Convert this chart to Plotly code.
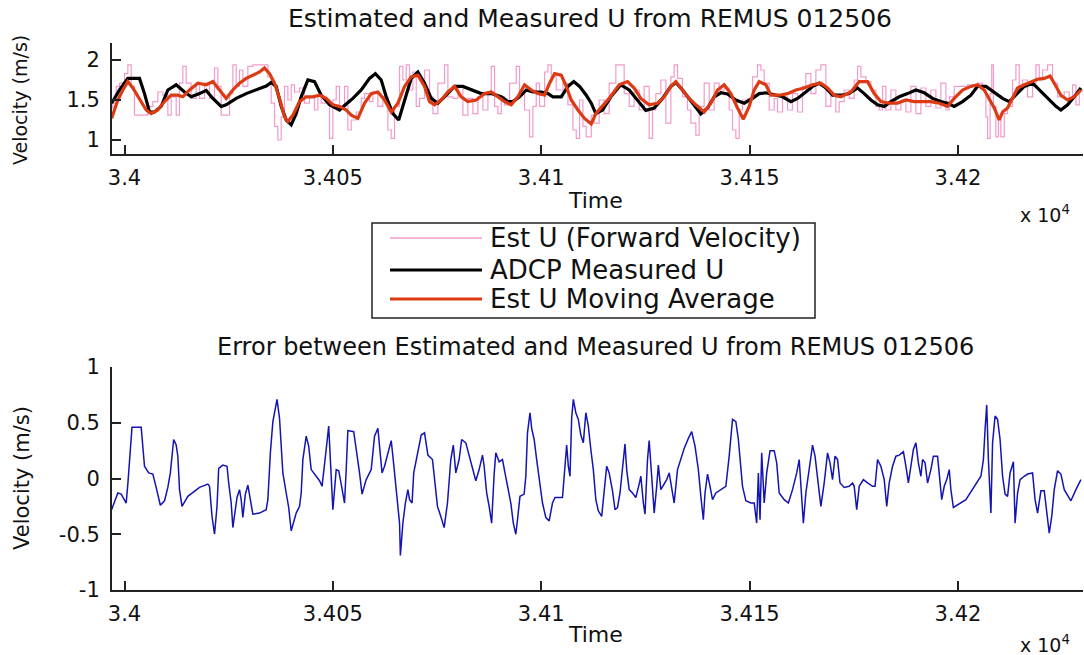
import plotly.graph_objects as go

W, H = 1084, 655

# ---------------- data (time in s, velocity in m/s) ----------------
EST_U = [
    (33996.9, 1.40), (33997.2, 1.46), (33998.0, 1.67), (33998.8, 1.71), (34000.0, 1.83), (34000.8, 1.94),
    (34001.6, 1.67), (34002.4, 1.31), (34004.8, 1.31), (34005.6, 1.42), (34006.8, 1.48), (34008.0, 1.60),
    (34009.2, 1.56), (34010.4, 1.31), (34011.2, 1.54), (34012.4, 1.31), (34013.2, 1.71), (34014.0, 1.92),
    (34014.8, 1.71), (34016.0, 1.52), (34017.2, 1.71), (34018.0, 1.52), (34019.2, 1.71), (34020.4, 1.52),
    (34021.6, 1.90), (34022.4, 1.67), (34023.2, 1.31), (34024.4, 1.31), (34025.2, 1.58), (34026.0, 1.94),
    (34026.8, 1.67), (34027.6, 1.875), (34028.4, 1.67), (34029.6, 1.92), (34030.8, 1.94), (34033.6, 1.94),
    (34034.4, 1.79), (34035.2, 1.46), (34036.0, 1.17), (34036.8, 1.00), (34037.6, 1.29), (34038.4, 1.67),
    (34039.2, 1.50), (34040.0, 1.69), (34040.8, 1.60), (34042.0, 1.65), (34043.2, 1.46), (34044.4, 1.54),
    (34045.6, 1.375), (34046.4, 1.56), (34047.2, 1.46), (34048.4, 1.50), (34049.2, 1.02), (34050.0, 1.50),
    (34050.8, 1.67), (34051.6, 1.42), (34052.8, 1.67),
    (34053.6, 1.125), (34054.4, 1.25), (34055.6, 1.35), (34056.8, 1.52), (34057.6, 1.58), (34058.8, 1.48),
    (34059.6, 1.60), (34060.8, 1.42), (34062.0, 1.54), (34063.2, 1.125), (34064.0, 1.02), (34064.8, 1.42),
    (34066.0, 1.92), (34066.8, 1.75), (34067.6, 1.94), (34068.4, 1.625), (34069.2, 1.85), (34070.0, 1.42),
    (34070.8, 1.52), (34072.0, 1.875), (34073.2, 1.54), (34074.0, 1.33), (34075.2, 1.71), (34076.8, 1.94),
    (34077.6, 1.54), (34078.8, 1.52), (34080.0, 1.67), (34081.2, 1.31), (34082.4, 1.52), (34083.6, 1.33),
    (34084.8, 1.54), (34086.0, 1.375), (34087.2, 1.58), (34088.0, 1.92), (34088.8, 1.42), (34089.6, 1.33),
    (34090.4, 1.54), (34091.2, 1.44), (34092.4, 1.71), (34094.0, 1.92), (34094.8, 1.58), (34096.0, 1.375),
    (34097.2, 1.04), (34098.0, 1.42), (34098.8, 1.71), (34099.6, 1.42), (34100.8, 1.85), (34101.6, 1.94),
    (34102.4, 1.79), (34103.6, 1.625), (34105.2, 1.71), (34106.4, 1.44), (34107.6, 1.125), (34108.4, 1.02),
    (34109.2, 1.50), (34110.0, 1.17), (34110.8, 1.04), (34112.0, 1.31),
    (34112.7, 1.21), (34113.9, 1.50), (34115.1, 1.33), (34116.3, 1.71), (34117.9, 1.94), (34119.1, 1.94),
    (34119.9, 1.58), (34121.1, 1.42), (34122.3, 1.625), (34123.5, 1.375), (34124.7, 1.67), (34125.9, 1.02),
    (34126.7, 1.375), (34127.5, 1.58), (34128.7, 1.75), (34129.9, 1.21), (34131.1, 1.79), (34131.9, 1.94),
    (34132.7, 1.77), (34133.9, 1.54), (34135.1, 1.375), (34135.9, 1.21), (34137.1, 1.06), (34137.9, 1.42),
    (34139.1, 1.71), (34140.3, 1.375), (34141.5, 1.71), (34142.7, 1.625), (34143.9, 1.65), (34145.1, 1.375),
    (34145.9, 1.125), (34146.7, 1.02), (34147.5, 1.375), (34148.3, 1.50), (34149.5, 1.52), (34150.7, 1.79),
    (34151.9, 1.94), (34152.7, 1.875), (34153.5, 1.71), (34154.7, 1.375), (34155.9, 1.52), (34156.7, 1.35),
    (34157.9, 1.54), (34159.1, 1.375), (34160.3, 1.58), (34161.5, 1.35), (34162.7, 1.67), (34163.5, 1.83),
    (34164.7, 1.58), (34165.9, 1.875), (34167.1, 1.94), (34168.3, 1.42), (34169.5, 1.58), (34170.7, 1.35),
    (34171.5, 1.48), (34172.7, 1.625), (34173.9, 1.52), (34175.1, 1.75), (34175.9, 1.92), (34176.7, 1.79),
    (34177.9, 1.73), (34179.1, 1.625), (34180.3, 1.42), (34181.1, 1.375), (34181.9, 1.67), (34182.7, 1.375),
    (34183.9, 1.625), (34185.1, 1.375), (34186.3, 1.50), (34187.5, 1.35), (34188.7, 1.67), (34189.9, 1.33),
    (34191.1, 1.65), (34192.3, 1.42), (34193.5, 1.625), (34194.7, 1.40), (34195.9, 1.71), (34197.1, 1.375),
    (34197.9, 1.54), (34199.1, 1.67), (34200.7, 1.67), (34202.3, 1.69), (34203.5, 1.67), (34204.7, 1.71),
    (34205.9, 1.625), (34206.7, 1.29), (34207.1, 1.02), (34207.7, 1.58), (34208.1, 1.94), (34208.5, 1.42),
    (34209.1, 1.04), (34209.7, 1.29), (34210.3, 1.04), (34211.1, 1.33), (34211.9, 1.42), (34213.1, 1.75),
    (34213.9, 1.94), (34214.7, 1.625), (34215.5, 1.75), (34216.7, 1.54), (34217.9, 1.71), (34218.7, 1.94),
    (34219.5, 1.75), (34220.3, 1.875), (34221.5, 1.94), (34222.7, 1.71), (34223.9, 1.54), (34225.5, 1.60),
    (34226.7, 1.52), (34227.5, 1.69), (34228.3, 1.44), (34229.1, 1.625), (34230.0, 1.60),
]

ADCP_U = [
    (33996.9, 1.46), (33998.8, 1.625), (34000.8, 1.77), (34003.6, 1.77), (34004.8, 1.58), (34006.0, 1.35),
    (34007.2, 1.35), (34008.8, 1.42), (34010.4, 1.625), (34012.4, 1.69), (34014.4, 1.60), (34016.0, 1.54),
    (34018.0, 1.58), (34019.6, 1.62), (34021.2, 1.52), (34023.2, 1.42), (34024.4, 1.44), (34026.8, 1.52),
    (34029.2, 1.58), (34031.6, 1.625), (34034.0, 1.675), (34035.2, 1.72), (34036.4, 1.67), (34037.6, 1.42),
    (34038.8, 1.25), (34040.0, 1.19), (34041.2, 1.33), (34042.4, 1.54), (34044.0, 1.75), (34045.6, 1.73),
    (34047.2, 1.56), (34049.2, 1.44), (34051.6, 1.375), (34053.0, 1.44), (34054.8, 1.52), (34056.8, 1.625),
    (34058.8, 1.77), (34060.2, 1.83), (34061.6, 1.75), (34062.8, 1.54), (34064.4, 1.33), (34065.8, 1.25),
    (34067.2, 1.50), (34068.8, 1.77), (34070.4, 1.85), (34072.0, 1.71), (34073.6, 1.52), (34075.2, 1.46),
    (34076.8, 1.54), (34079.2, 1.67), (34081.2, 1.67), (34083.2, 1.625), (34085.6, 1.58), (34088.0, 1.58),
    (34090.4, 1.54), (34092.0, 1.48), (34093.2, 1.48), (34094.8, 1.54), (34096.4, 1.625), (34098.0, 1.60),
    (34100.0, 1.60), (34101.6, 1.58), (34102.8, 1.54), (34104.8, 1.54), (34106.4, 1.67), (34107.8, 1.73),
    (34109.2, 1.67), (34110.8, 1.56), (34112.0, 1.46), (34113.1, 1.33), (34114.7, 1.375), (34116.7, 1.54),
    (34119.1, 1.69), (34121.1, 1.625), (34123.1, 1.50), (34125.1, 1.37), (34127.1, 1.40), (34129.1, 1.52),
    (34131.1, 1.67), (34132.3, 1.72), (34133.9, 1.625), (34135.5, 1.52), (34137.1, 1.40), (34138.3, 1.325),
    (34139.9, 1.40), (34141.5, 1.54), (34143.1, 1.59), (34144.7, 1.575), (34146.7, 1.50), (34148.7, 1.46),
    (34150.7, 1.52), (34152.3, 1.58), (34153.9, 1.59), (34155.9, 1.56), (34157.9, 1.54), (34159.9, 1.48),
    (34161.5, 1.52), (34163.5, 1.60), (34165.1, 1.67), (34166.7, 1.71), (34168.3, 1.65), (34169.9, 1.56),
    (34171.9, 1.56), (34173.9, 1.58), (34175.9, 1.65), (34177.5, 1.58), (34179.1, 1.50), (34180.7, 1.44),
    (34182.3, 1.42), (34183.9, 1.48), (34185.9, 1.54), (34187.9, 1.58), (34189.9, 1.625), (34191.9, 1.59),
    (34193.9, 1.52), (34195.9, 1.48), (34197.5, 1.46), (34199.1, 1.42), (34201.1, 1.48), (34203.1, 1.56),
    (34204.7, 1.67), (34206.7, 1.67), (34208.7, 1.60), (34210.7, 1.52), (34212.3, 1.48), (34213.9, 1.56),
    (34215.9, 1.67), (34217.9, 1.71), (34219.5, 1.625), (34221.5, 1.52), (34223.5, 1.42), (34224.7, 1.375),
    (34226.3, 1.44), (34227.9, 1.54), (34229.5, 1.65),
]

AVG_U = [
    (33996.9, 1.27), (33998.4, 1.50), (33999.6, 1.625), (34000.8, 1.73), (34002.0, 1.65), (34003.6, 1.52),
    (34005.2, 1.375), (34006.4, 1.33), (34008.0, 1.375), (34009.6, 1.48), (34011.2, 1.56), (34012.8, 1.56),
    (34014.0, 1.54), (34015.6, 1.625), (34017.6, 1.71), (34019.6, 1.69), (34021.2, 1.73), (34022.8, 1.625),
    (34024.4, 1.52), (34026.0, 1.625), (34027.6, 1.71), (34029.2, 1.77), (34030.8, 1.81), (34032.4, 1.85),
    (34033.6, 1.90), (34034.8, 1.83), (34036.0, 1.71), (34037.2, 1.52), (34038.4, 1.29), (34039.2, 1.23),
    (34040.4, 1.31), (34042.0, 1.48), (34043.6, 1.54), (34045.2, 1.54), (34046.8, 1.56), (34048.4, 1.52),
    (34050.0, 1.44), (34051.6, 1.42), (34053.2, 1.375), (34054.4, 1.31), (34056.0, 1.27), (34057.6, 1.46),
    (34059.2, 1.58), (34060.8, 1.60), (34062.4, 1.50), (34064.0, 1.35), (34065.6, 1.46), (34067.2, 1.67),
    (34068.8, 1.79), (34070.4, 1.81), (34072.0, 1.67), (34073.2, 1.48), (34074.4, 1.44), (34076.0, 1.50),
    (34077.6, 1.60), (34079.2, 1.67), (34080.8, 1.54), (34082.4, 1.48), (34084.4, 1.50), (34086.4, 1.58),
    (34088.0, 1.60), (34089.6, 1.54), (34091.2, 1.48), (34092.8, 1.44), (34094.4, 1.54), (34096.0, 1.69),
    (34097.6, 1.625), (34099.2, 1.58), (34100.8, 1.56), (34102.0, 1.71), (34103.2, 1.83), (34104.8, 1.81),
    (34106.0, 1.67), (34107.2, 1.50), (34108.8, 1.375), (34110.4, 1.27), (34112.0, 1.20), (34113.1, 1.33),
    (34114.7, 1.42), (34116.3, 1.52), (34118.7, 1.69), (34120.7, 1.73), (34122.3, 1.65), (34123.9, 1.52),
    (34125.9, 1.44), (34127.9, 1.46), (34129.5, 1.54), (34131.1, 1.67), (34132.3, 1.73), (34133.9, 1.625),
    (34135.5, 1.52), (34137.1, 1.44), (34139.1, 1.35), (34140.7, 1.46), (34142.3, 1.625), (34143.9, 1.69),
    (34145.5, 1.58), (34147.1, 1.40), (34148.5, 1.26), (34149.9, 1.42), (34151.1, 1.625), (34152.3, 1.73),
    (34153.9, 1.69), (34155.1, 1.56), (34157.1, 1.56), (34159.1, 1.58), (34161.1, 1.625), (34163.1, 1.65),
    (34165.1, 1.69), (34167.1, 1.71), (34168.7, 1.65), (34170.3, 1.56), (34171.9, 1.54), (34174.3, 1.60),
    (34176.3, 1.73), (34178.3, 1.73), (34179.9, 1.58), (34181.5, 1.48), (34183.5, 1.46), (34185.5, 1.46),
    (34187.5, 1.50), (34189.5, 1.48), (34191.5, 1.48), (34193.5, 1.48), (34195.5, 1.46), (34197.5, 1.42),
    (34199.1, 1.52), (34201.1, 1.625), (34203.1, 1.67), (34204.7, 1.69), (34206.3, 1.625), (34207.5, 1.52),
    (34208.7, 1.40), (34209.9, 1.25), (34210.7, 1.35), (34211.9, 1.40), (34213.1, 1.52), (34214.3, 1.65),
    (34215.9, 1.69), (34217.5, 1.73), (34219.1, 1.76), (34220.7, 1.77), (34222.1, 1.80), (34223.1, 1.71),
    (34224.7, 1.56), (34226.3, 1.50), (34227.9, 1.54), (34229.5, 1.625),
]

ERROR_U = [
    (33996.9, -0.28), (33998.4, -0.13), (33999.2, -0.14), (34000.4, -0.22), (34000.8, -0.05), (34001.4, 0.29),
    (34001.8, 0.46), (34004.0, 0.46), (34004.4, 0.29), (34004.8, 0.11), (34005.8, 0.05), (34006.8, 0.04),
    (34007.6, -0.08), (34008.6, -0.24), (34009.6, -0.20), (34010.4, -0.08), (34011.0, 0.05), (34011.8, 0.35),
    (34012.4, 0.30), (34012.8, 0.20), (34013.2, -0.10), (34013.8, -0.25), (34015.2, -0.16), (34016.8, -0.11),
    (34018.0, -0.08), (34020.0, -0.05), (34020.4, -0.07), (34021.0, -0.34), (34021.6, -0.50), (34022.2, -0.25),
    (34022.6, 0.09), (34023.6, 0.12), (34024.6, 0.11), (34025.0, -0.04), (34025.6, -0.22), (34026.0, -0.44),
    (34026.4, -0.31), (34027.0, -0.17), (34027.6, -0.10), (34028.0, -0.19), (34028.4, -0.35), (34029.0, -0.14),
    (34029.6, -0.06), (34030.2, -0.19), (34030.8, -0.32), (34032.4, -0.31), (34034.0, -0.28), (34034.4, -0.19),
    (34035.0, 0.23), (34035.6, 0.51), (34036.2, 0.65), (34036.6, 0.71), (34037.2, 0.54), (34037.6, 0.23),
    (34038.0, 0.05), (34038.8, -0.13), (34039.4, -0.26), (34040.0, -0.47), (34040.6, -0.40), (34041.2, -0.31),
    (34042.0, -0.25), (34042.4, -0.13), (34042.8, 0.17), (34043.6, 0.38), (34044.2, 0.29), (34044.8, 0.08),
    (34046.0, 0.02), (34046.8, -0.02), (34047.4, -0.07), (34048.2, 0.17), (34048.6, 0.33), (34049.0, 0.47),
    (34049.4, 0.20), (34050.0, -0.28), (34050.8, 0.08), (34051.4, 0.07), (34052.0, -0.05), (34052.8, -0.22),
    (34053.2, 0.08), (34053.6, 0.43), (34055.0, 0.42), (34055.6, 0.27), (34056.4, 0.05), (34057.0, -0.14),
    (34058.0, -0.01), (34059.2, 0.08), (34060.0, 0.38), (34060.8, 0.45), (34061.4, 0.20), (34061.8, 0.05),
    (34062.4, 0.11), (34063.2, 0.23), (34064.0, 0.34), (34064.4, 0.20), (34065.2, -0.13), (34066.0, -0.40),
    (34066.2, -0.69), (34066.8, -0.40), (34067.4, -0.22), (34068.0, -0.10), (34068.4, -0.19), (34069.0, -0.22),
    (34069.4, 0.05), (34070.4, 0.23), (34071.2, 0.39), (34072.0, 0.41), (34072.8, 0.21), (34073.9, 0.17),
    (34074.5, -0.04), (34075.1, -0.25), (34075.9, -0.34), (34076.7, -0.44), (34077.5, -0.22), (34077.9, -0.04),
    (34078.3, 0.17), (34078.9, 0.30), (34079.5, 0.05), (34080.3, 0.17), (34080.9, 0.35), (34081.9, 0.32),
    (34082.7, 0.20), (34083.5, 0.08), (34084.3, -0.02), (34085.1, 0.08), (34085.9, 0.21), (34086.3, 0.11),
    (34086.9, -0.13), (34087.5, -0.25), (34088.1, -0.40), (34088.7, 0.04), (34089.1, 0.23), (34089.9, 0.15),
    (34090.7, 0.17), (34091.3, 0.05), (34091.9, -0.07), (34092.7, -0.22), (34093.3, -0.40), (34093.9, -0.50),
    (34094.3, -0.37), (34094.9, -0.16), (34095.9, -0.14), (34096.3, 0.02), (34096.7, 0.41), (34097.3, 0.59),
    (34097.7, 0.45), (34098.3, 0.35), (34098.9, 0.17), (34099.5, -0.01), (34100.3, -0.22), (34101.1, -0.35),
    (34101.9, -0.38), (34102.7, -0.22), (34103.3, -0.17), (34105.1, -0.17), (34105.7, 0.07), (34106.1, 0.30),
    (34106.5, 0.11), (34106.9, 0.02), (34107.3, 0.54), (34107.7, 0.71), (34108.3, 0.59), (34108.9, 0.53),
    (34109.5, 0.39), (34110.1, 0.32), (34110.7, 0.59), (34111.3, 0.47), (34111.9, 0.26), (34112.5, 0.08),
    (34113.1, -0.19), (34113.7, -0.29), (34114.5, -0.34), (34115.1, -0.13), (34115.7, 0.11), (34116.3, 0.05),
    (34117.1, -0.11), (34117.7, -0.28), (34118.3, -0.26), (34118.9, -0.13), (34119.5, 0.08), (34120.1, 0.31),
    (34120.5, 0.08), (34121.1, -0.10), (34121.9, -0.13), (34122.7, -0.17), (34123.5, -0.05), (34123.9, 0.02),
    (34124.5, -0.22), (34124.9, -0.32), (34125.5, 0.17), (34125.9, 0.34), (34126.5, 0.02), (34127.1, -0.31),
    (34127.7, -0.07), (34128.1, 0.12), (34128.7, -0.10), (34129.5, -0.04), (34130.1, -0.01), (34130.7, 0.05),
    (34131.3, -0.07), (34131.9, -0.22), (34132.7, 0.08), (34133.5, 0.17), (34134.3, 0.27), (34135.3, 0.36),
    (34136.1, 0.42), (34136.9, 0.29), (34137.7, 0.08), (34138.3, -0.16), (34138.9, -0.37), (34139.3, -0.13),
    (34139.9, 0.04), (34140.5, -0.07), (34141.1, -0.19), (34141.9, -0.13), (34144.3, -0.07), (34145.1, 0.20),
    (34145.9, 0.53), (34146.7, 0.51), (34147.3, 0.35), (34148.3, -0.07), (34149.1, -0.20), (34150.3, -0.22),
    (34151.1, -0.22), (34151.7, -0.40), (34152.1, 0.05), (34152.5, -0.37), (34152.9, 0.23), (34153.5, -0.22),
    (34154.1, 0.05), (34154.9, 0.25), (34155.9, 0.25), (34156.5, 0.14), (34157.1, -0.13), (34158.3, -0.19),
    (34159.3, -0.22), (34160.3, -0.10), (34161.3, 0.05), (34161.9, 0.17), (34162.3, -0.04), (34162.9, -0.40),
    (34163.5, -0.13), (34164.3, 0.08), (34165.1, 0.30), (34165.7, 0.20), (34166.3, 0.02), (34167.1, -0.25),
    (34167.9, -0.04), (34168.7, 0.23), (34169.3, 0.14), (34169.9, -0.01), (34170.5, 0.20), (34171.1, 0.17),
    (34171.7, -0.04), (34172.7, -0.08), (34173.9, -0.07), (34174.7, -0.04), (34175.1, -0.07), (34175.7, -0.28),
    (34176.3, -0.07), (34177.3, -0.01), (34178.3, -0.04), (34179.5, -0.07), (34180.1, -0.07), (34180.7, 0.17),
    (34181.5, 0.11), (34182.3, -0.01), (34182.9, -0.25), (34183.5, -0.04), (34184.3, 0.11), (34185.1, 0.20),
    (34185.9, 0.21), (34186.9, 0.24), (34187.5, 0.11), (34188.1, -0.04), (34188.7, 0.11), (34189.3, 0.26),
    (34189.9, 0.32), (34190.5, 0.14), (34191.1, 0.02), (34191.5, 0.17), (34192.1, 0.14), (34192.7, -0.04),
    (34193.5, 0.08), (34194.1, 0.20), (34195.1, 0.20), (34195.5, 0.05), (34196.1, -0.19), (34196.7, -0.07),
    (34197.3, -0.01), (34197.9, 0.08), (34198.3, -0.10), (34198.9, -0.26), (34201.9, -0.19), (34205.5, 0.02),
    (34206.1, 0.17), (34206.5, 0.44), (34206.9, 0.66), (34207.3, 0.17), (34207.9, -0.31), (34208.3, 0.32),
    (34208.9, 0.56), (34209.5, 0.53), (34210.1, 0.35), (34210.7, 0.02), (34211.3, -0.14), (34211.9, -0.16),
    (34212.5, 0.05), (34213.3, 0.15), (34213.7, -0.40), (34214.3, -0.13), (34214.9, -0.01), (34215.9, 0.02),
    (34216.7, 0.04), (34217.9, 0.05), (34218.5, -0.19), (34219.1, -0.31), (34219.9, -0.11), (34220.7, -0.11),
    (34221.3, -0.31), (34221.9, -0.49), (34222.5, -0.34), (34223.1, -0.10), (34223.9, 0.07), (34224.7, 0.04),
    (34225.5, -0.10), (34227.1, -0.20), (34228.3, -0.10), (34229.5, -0.01),
]

X_TICKS = [34000, 34050, 34100, 34150, 34200]
X_TICK_LABELS = ["3.4", "3.405", "3.41", "3.415", "3.42"]
Y1_TICKS = [1, 1.5, 2]
Y1_TICK_LABELS = ["1", "1.5", "2"]
Y2_TICKS = [-1, -0.5, 0, 0.5, 1]
Y2_TICK_LABELS = ["-1", "-0.5", "0", "0.5", "1"]

SERIES_NAMES = ["Est U (Forward Velocity)", "ADCP Measured U", "Est U Moving Average"]
COLORS = {"est": "#F29BCB", "adcp": "#000000", "avg": "#DC3A12", "err": "#1414B4"}

# ---------------- helpers (layout only) ----------------
def fx(p):
    return p / W

def fy(p):
    return 1 - p / H

def unzip(pairs):
    return [p[0] for p in pairs], [p[1] for p in pairs]

FONT = "DejaVu Sans, Arial, sans-serif"
TXT = "#111111"

fig = go.Figure()

t, v = unzip(EST_U)
fig.add_trace(go.Scatter(x=t, y=v, mode="lines", line=dict(color=COLORS["est"], width=1.2, shape="hv"),
                         name=SERIES_NAMES[0], xaxis="x", yaxis="y", showlegend=False))
t, v = unzip(ADCP_U)
fig.add_trace(go.Scatter(x=t, y=v, mode="lines", line=dict(color=COLORS["adcp"], width=3.2),
                         name=SERIES_NAMES[1], xaxis="x", yaxis="y", showlegend=False))
t, v = unzip(AVG_U)
fig.add_trace(go.Scatter(x=t, y=v, mode="lines", line=dict(color=COLORS["avg"], width=3.2),
                         name=SERIES_NAMES[2], xaxis="x", yaxis="y", showlegend=False))
t, v = unzip(ERROR_U)
fig.add_trace(go.Scatter(x=t, y=v, mode="lines", line=dict(color=COLORS["err"], width=1.5),
                         name="Error", xaxis="x2", yaxis="y2", showlegend=False))

axis_common = dict(showgrid=False, zeroline=False, showline=True, linecolor="#222222", linewidth=2,
                   ticks="inside", ticklen=9, tickwidth=1.5, tickcolor="#222222", automargin=False,
                   tickfont=dict(family=FONT, size=21, color=TXT), mirror=False)

x_domain = [fx(112), fx(1083)]
x_range = [33997.0, 34230.0]

fig.update_layout(
    template="none",
    width=W, height=H, autosize=False,
    margin=dict(l=0, r=0, t=0, b=0, pad=0),
    paper_bgcolor="white", plot_bgcolor="white",
    showlegend=False,
    xaxis=dict(domain=x_domain, range=x_range, anchor="y", tickvals=X_TICKS, ticktext=X_TICK_LABELS,
               ticklabelstandoff=4, **axis_common),
    yaxis=dict(domain=[fy(154), fy(43)], range=[0.825, 2.2125], anchor="x", tickvals=Y1_TICKS,
               ticktext=Y1_TICK_LABELS, ticklabelstandoff=6, **axis_common),
    xaxis2=dict(domain=x_domain, range=x_range, anchor="y2", tickvals=X_TICKS, ticktext=X_TICK_LABELS,
                ticklabelstandoff=4, **axis_common),
    yaxis2=dict(domain=[fy(590), fy(367)], range=[-1, 1], anchor="x2", tickvals=Y2_TICKS,
                ticktext=Y2_TICK_LABELS, ticklabelstandoff=6, **axis_common),
)

def note(text, x, y, size, angle=0, xanchor="center"):
    fig.add_annotation(text=text, x=fx(x), y=fy(y), xref="paper", yref="paper", showarrow=False,
                       xanchor=xanchor, yanchor="middle", textangle=angle,
                       font=dict(family=FONT, size=size, color=TXT))

note("Estimated and Measured U from REMUS 012506", 590, 19, 25)
note("Error between Estimated and Measured U from REMUS 012506", 595, 347, 24)
note("Time", 595, 200, 22)
note("Time", 595, 634, 22)
note("Velocity (m/s)", 20, 100, 19, angle=-90)
note("Velocity (m/s)", 22, 478, 21, angle=-90)
note("x 10<sup>4</sup>", 1045, 214, 19)
note("x 10<sup>4</sup>", 1045, 644, 19)

# custom legend box
fig.add_shape(type="rect", xref="paper", yref="paper", x0=fx(372), x1=fx(815), y0=fy(318), y1=fy(223),
              line=dict(color="#222222", width=1.5), fillcolor="white", layer="above")
leg_rows = [(238, COLORS["est"], 1.5), (270, COLORS["adcp"], 3), (299, COLORS["avg"], 3)]
for (yy, col, wdt), name in zip(leg_rows, SERIES_NAMES):
    fig.add_shape(type="line", xref="paper", yref="paper", x0=fx(390), x1=fx(482), y0=fy(yy), y1=fy(yy),
                  line=dict(color=col, width=wdt), layer="above")
    note(name, 488, yy, 26, xanchor="left")

fig.write_html("out.html", config={"displayModeBar": False},
               post_script="document.body.style.margin='0px';")
